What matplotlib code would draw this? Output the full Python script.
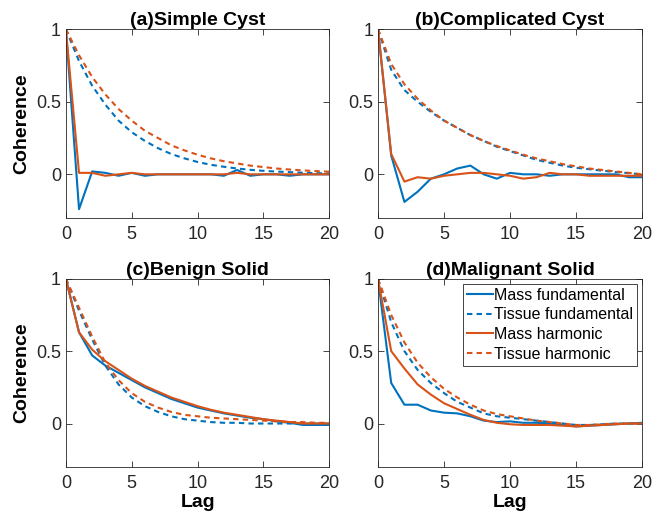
import numpy as np
import matplotlib.pyplot as plt

plt.rcParams['font.family'] = ['Liberation Sans', 'DejaVu Sans']

lags = np.arange(21)

# (a) Simple Cyst
a_mass_fund = [1, -0.24, 0.02, 0.01, -0.01, 0.01, -0.01, 0.0, 0.0, 0.0, 0.0,
               0.0, -0.01, 0.03, -0.01, 0.0, 0.0, -0.01, 0.0, 0.0, 0.0]
a_tis_fund = [1, 0.78, 0.61, 0.48, 0.37, 0.29, 0.23, 0.18, 0.14, 0.11, 0.085,
              0.066, 0.052, 0.04, 0.031, 0.024, 0.019, 0.015, 0.011, 0.008, 0.006]
a_mass_harm = [1, 0.01, 0.01, -0.01, 0.0, 0.01, 0.0, 0.0, 0.0, 0.0, 0.0,
               0.0, 0.0, 0.01, 0.0, 0.0, 0.0, 0.0, 0.0, 0.0, 0.0]
a_tis_harm = [1, 0.82, 0.67, 0.55, 0.45, 0.37, 0.30, 0.25, 0.20, 0.165, 0.135,
              0.11, 0.09, 0.075, 0.06, 0.05, 0.04, 0.033, 0.027, 0.022, 0.018]

# (b) Complicated Cyst
b_mass_fund = [1, 0.13, -0.19, -0.12, -0.03, 0.0, 0.04, 0.06, 0.0, -0.03, 0.01,
               0.0, 0.0, -0.01, 0.0, 0.0, 0.0, 0.0, 0.0, -0.02, -0.02]
b_tis_fund = [1, 0.72, 0.58, 0.50, 0.43, 0.37, 0.32, 0.27, 0.23, 0.19, 0.16,
              0.13, 0.10, 0.08, 0.06, 0.045, 0.035, 0.025, 0.015, 0.008, 0.0]
b_mass_harm = [1, 0.14, -0.05, -0.02, -0.03, -0.01, 0.0, 0.01, 0.01, 0.0, -0.01,
               -0.03, -0.02, 0.01, 0.0, 0.0, -0.01, -0.01, -0.01, -0.01, -0.01]
b_tis_harm = [1, 0.76, 0.62, 0.52, 0.44, 0.37, 0.32, 0.27, 0.23, 0.195, 0.165,
              0.135, 0.11, 0.09, 0.07, 0.055, 0.04, 0.03, 0.02, 0.01, 0.0]

# (c) Benign Solid
c_mass_fund = [1, 0.63, 0.47, 0.40, 0.35, 0.30, 0.25, 0.21, 0.17, 0.14, 0.11,
               0.09, 0.07, 0.055, 0.04, 0.03, 0.015, 0.005, -0.01, -0.01, -0.01]
c_tis_fund = [1, 0.78, 0.58, 0.40, 0.27, 0.18, 0.12, 0.08, 0.05, 0.03, 0.02,
              0.01, 0.005, 0.005, 0.0, 0.0, 0.0, 0.0, 0.0, 0.0, 0.0]
c_mass_harm = [1, 0.63, 0.51, 0.43, 0.37, 0.31, 0.26, 0.22, 0.18, 0.15, 0.12,
               0.095, 0.075, 0.06, 0.045, 0.03, 0.02, 0.01, 0.0, 0.0, 0.0]
c_tis_harm = [1, 0.80, 0.60, 0.42, 0.30, 0.21, 0.15, 0.11, 0.08, 0.06, 0.05,
              0.04, 0.035, 0.03, 0.025, 0.02, 0.015, 0.01, 0.01, 0.005, 0.005]

# (d) Malignant Solid
d_mass_fund = [1, 0.28, 0.13, 0.13, 0.09, 0.075, 0.07, 0.05, 0.02, 0.01, 0.015,
               0.005, 0.005, 0.0, -0.01, -0.02, -0.015, -0.01, -0.005, 0.0, 0.005]
d_tis_fund = [1, 0.70, 0.50, 0.37, 0.28, 0.21, 0.15, 0.11, 0.07, 0.05, 0.04,
              0.03, 0.02, 0.01, 0.0, -0.01, -0.01, -0.005, 0.0, 0.0, 0.0]
d_mass_harm = [1, 0.50, 0.38, 0.27, 0.20, 0.14, 0.10, 0.06, 0.025, 0.005, -0.005,
               -0.01, -0.01, -0.01, -0.015, -0.02, -0.015, -0.01, -0.005, 0.0, 0.0]
d_tis_harm = [1, 0.75, 0.56, 0.42, 0.32, 0.24, 0.18, 0.13, 0.09, 0.065, 0.05,
              0.035, 0.02, 0.01, 0.0, -0.01, -0.01, -0.005, 0.0, 0.0, 0.0]

titles = ['(a)Simple Cyst', '(b)Complicated Cyst', '(c)Benign Solid', '(d)Malignant Solid']
panels = [
    (a_mass_fund, a_tis_fund, a_mass_harm, a_tis_harm),
    (b_mass_fund, b_tis_fund, b_mass_harm, b_tis_harm),
    (c_mass_fund, c_tis_fund, c_mass_harm, c_tis_harm),
    (d_mass_fund, d_tis_fund, d_mass_harm, d_tis_harm),
]
labels = ['Mass fundamental', 'Tissue fundamental', 'Mass harmonic', 'Tissue harmonic']

blue = '#0072BD'
orange = '#D95319'
dash = (2.6, 2.0)

fig = plt.figure(figsize=(6.72, 5.2), dpi=100)
positions = [
    [0.098, 0.581, 0.392, 0.363],
    [0.5625, 0.581, 0.393, 0.363],
    [0.098, 0.102, 0.392, 0.362],
    [0.5625, 0.102, 0.393, 0.362],
]

for i, (pos, title, data) in enumerate(zip(positions, titles, panels)):
    ax = fig.add_axes(pos)
    mf, tf, mh, th = data
    ax.plot(lags, mf, '-', color=blue, lw=1.5, label=labels[0])
    ax.plot(lags, tf, '--', color=blue, lw=1.5, dashes=dash, label=labels[1])
    ax.plot(lags, mh, '-', color=orange, lw=1.5, label=labels[2])
    ax.plot(lags, th, '--', color=orange, lw=1.5, dashes=dash, label=labels[3])
    ax.set_xlim(0, 20)
    ax.set_ylim(-0.3, 1)
    ax.set_xticks([0, 5, 10, 15, 20])
    ax.set_yticks([0, 0.5, 1])
    ax.set_yticklabels(['0', '0.5', '1'])
    ax.tick_params(direction='in', top=True, right=True, labelsize=13,
                   length=4, width=0.6, colors='#262626', labelcolor='#262626')
    ax.tick_params(axis='x', pad=6)
    for s in ax.spines.values():
        s.set_linewidth(0.6)
        s.set_color('#262626')
    ax.set_title(title, fontsize=14, fontweight='bold', pad=3)
    if i % 2 == 0:
        ax.set_ylabel('Coherence', fontsize=14, fontweight='bold', labelpad=4)
    if i >= 2:
        ax.set_xlabel('Lag', fontsize=14, fontweight='bold', labelpad=1)
    if i == 3:
        leg = ax.legend(loc='upper right', fontsize=11.5, fancybox=False,
                        framealpha=1, edgecolor='#262626', handlelength=1.6,
                        handletextpad=0.1, borderpad=0.25, labelspacing=0.3,
                        borderaxespad=0.3)
        leg.get_frame().set_linewidth(0.6)

fig.savefig('out.png', dpi=100)
